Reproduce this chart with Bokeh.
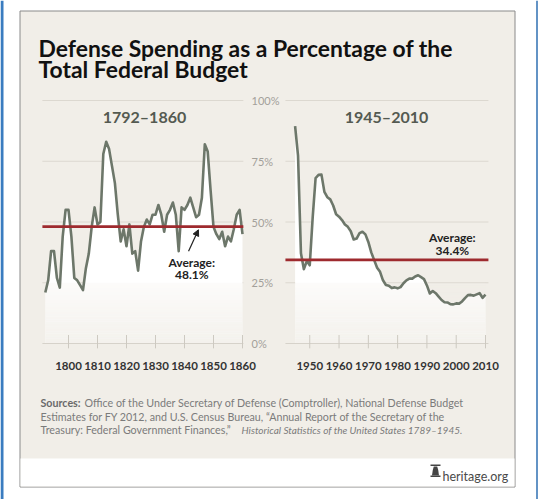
from bokeh.plotting import figure
from bokeh.models import Range1d, Arrow, NormalHead
from bokeh.embed import file_html
from bokeh.resources import INLINE
from bokeh.core.properties import value

# ---------------- data ----------------
years_early = list(range(1792, 1861))
share_early = [21, 26, 38, 38, 27, 23, 44, 55, 55, 44,
               27, 26, 24, 22, 31, 37, 48, 56, 49, 50,
               78, 83, 80, 73, 66, 53, 42, 47, 40, 49,
               37, 38, 30, 42, 48, 51, 49, 53, 53, 57,
               53, 46, 53, 55, 58, 53, 38, 56, 55, 57,
               60, 56, 52, 53, 60, 82, 79, 63, 48, 45,
               43, 46, 40, 44, 42, 47, 53, 55, 45]
avg_early = 48.1

years_modern = list(range(1945, 2011))
share_modern = [89.5, 77.3, 37.1, 30.6, 33.9, 32.2, 51.8, 68.1, 69.4, 69.5,
                62.4, 60.2, 59.3, 56.8, 53.2, 52.2, 50.8, 49.0, 48.0, 46.2,
                42.8, 43.2, 45.4, 46.0, 44.9, 41.8, 37.5, 34.3, 31.2, 29.5,
                26.0, 24.1, 23.8, 22.8, 23.1, 22.7, 23.2, 24.8, 26.0, 26.7,
                26.7, 27.6, 28.1, 27.3, 26.5, 23.9, 20.6, 21.6, 20.7, 19.3,
                17.9, 17.0, 16.9, 16.2, 16.1, 16.5, 16.4, 17.3, 18.7, 19.9,
                20.0, 19.7, 20.2, 20.7, 18.8, 20.1]
avg_modern = 34.4

ticks_early = [1800, 1810, 1820, 1830, 1840, 1850, 1860]
ticks_modern = [1950, 1960, 1970, 1980, 1990, 2000, 2010]
y_ticks = [0, 25, 50, 75, 100]
y_tick_labels = ["0%", "25%", "50%", "75%", "100%"]

title_lines = ["Defense Spending as a Percentage of the", "Total Federal Budget"]
panel_titles = ["1792\u20131860", "1945\u20132010"]

# ---------------- layout ----------------
W, H = 538, 499
X0, Y0 = 0, 0
BG = "#f1eee8"
LINE = "#6d776a"
RED = "#9e2a2e"
GRID = "#dcd8d0"

def lin(a_px, a_v, b_px, b_v, px):
    return a_v + (px - a_px) * (b_v - a_v) / (b_px - a_px)

xl = Range1d(lin(68, 1800, 242, 1860, X0), lin(68, 1800, 242, 1860, X0 + W))
xr = Range1d(lin(294.6, 1945, 485, 2010, X0), lin(294.6, 1945, 485, 2010, X0 + W))
yv = Range1d(lin(343, 0, 100, 100, Y0 + H), lin(343, 0, 100, 100, Y0))

p = figure(width=W, height=H, x_range=Range1d(X0, X0 + W), y_range=Range1d(Y0 + H, Y0),
           output_backend="svg", toolbar_location=None, min_border=0,
           x_axis_type=None, y_axis_type=None, title=None,
           background_fill_color="white", border_fill_color="white", outline_line_color=None)
p.grid.visible = False
p.extra_x_ranges = {"L": xl, "R": xr}
p.extra_y_ranges = {"v": yv}

# page edges (blue)
p.quad(left=[0], right=[3], top=[0], bottom=[499], fill_color="#3a7cc0", line_color=None)
p.segment(x0=[536.5], y0=[0], x1=[536.5], y1=[499], line_color="#2f6fb2", line_width=1.5)

# panel background and border
p.quad(left=[19.5], right=[514.5], top=[10.5], bottom=[486.5], fill_color=BG,
       line_color="#8a8a8a", line_width=1)
p.quad(left=[20], right=[514], top=[458], bottom=[486], fill_color="white", line_color=None)

panels = [("L", years_early, share_early, avg_early, ticks_early, 1791.0, 1860.3),
          ("R", years_modern, share_modern, avg_modern, ticks_modern, 1941.7, 2011.0)]

for rn, xs, ys, avg, ticks, gx0, gx1 in panels:
    for t in y_ticks[1:]:
        p.segment(x0=[gx0], y0=[t], x1=[gx1], y1=[t], line_color=GRID, line_width=1,
                  x_range_name=rn, y_range_name="v")
    p.varea(x=xs, y1=[0] * len(xs), y2=ys, fill_color="white", x_range_name=rn, y_range_name="v")
    n = 25
    bots = [k for k in range(n)]
    tops = [k + 1 for k in range(n)]
    alphas = [0.8 - 0.6 * k / n for k in range(n)]
    p.quad(left=[xs[0]] * n, right=[xs[-1]] * n, bottom=bots, top=tops, fill_color=BG,
           fill_alpha=alphas, line_color=None, x_range_name=rn, y_range_name="v")
    p.segment(x0=[gx0], y0=[0], x1=[gx1], y1=[0], line_color="#d6d2ca", line_width=1.2,
              x_range_name=rn, y_range_name="v")
    p.segment(x0=ticks, y0=[-2] * len(ticks), x1=ticks, y1=[3.5] * len(ticks),
              line_color="#cdc9c1", line_width=1, x_range_name=rn, y_range_name="v")
    p.line(xs, ys, line_color=LINE, line_width=2.6, line_join="round",
           x_range_name=rn, y_range_name="v")
    p.segment(x0=[gx0], y0=[avg], x1=[gx1], y1=[avg], line_color=RED, line_width=2.6,
              x_range_name=rn, y_range_name="v")
    p.text(x=ticks, y=[365] * len(ticks), text=[str(t) for t in ticks], x_range_name=rn,
           text_font=value("Lato"), text_font_style="bold", text_font_size="11.5px",
           text_color="#333333", text_align="center", text_baseline="middle")

# panel titles
p.text(x=[1826.2], y=[116], text=[panel_titles[0]], x_range_name="L",
       text_font=value("Lato"), text_font_style="bold", text_font_size="16px",
       text_color="#545a51", text_align="center", text_baseline="middle")
p.text(x=[1976.2], y=[116], text=[panel_titles[1]], x_range_name="R",
       text_font=value("Lato"), text_font_style="bold", text_font_size="16px",
       text_color="#545a51", text_align="center", text_baseline="middle")

# y tick labels (between panels)
p.text(x=[251] * len(y_ticks), y=y_ticks, text=y_tick_labels, y_range_name="v",
       text_font=value("Lato"), text_font_size="11px", text_color="#a3a09a",
       text_align="left", text_baseline="middle")

# average annotations
p.text(x=[1842.5, 1842.5], y=[33.5, 28.4], text=["Average:", "%.1f%%" % avg_early],
       x_range_name="L", y_range_name="v", text_font=value("Lato"), text_font_style="bold",
       text_font_size="12px", text_color="#222222", text_align="center", text_baseline="middle")
p.text(x=[1998.7, 1998.7], y=[43.6, 38.3], text=["Average:", "%.1f%%" % avg_modern],
       x_range_name="R", y_range_name="v", text_font=value("Lato"), text_font_style="bold",
       text_font_size="12px", text_color="#222222", text_align="center", text_baseline="middle")
p.add_layout(Arrow(end=NormalHead(size=6, fill_color="#222222", line_color="#222222"),
                   x_start=1841.4, y_start=38.0, x_end=1844.8, y_end=46.8,
                   line_color="#222222", line_width=1.2, x_range_name="L", y_range_name="v"))

# title
p.text(x=[38, 38], y=[47, 68], text=title_lines, text_font=value("Lato"),
       text_font_style="bold", text_font_size="22.9px", text_color="#111111",
       text_align="left", text_baseline="alphabetic")

# sources
SRC = "#7b7b7b"
p.text(x=[40], y=[402], text=["Sources:"], text_font=value("Lato"), text_font_style="bold",
       text_font_size="10.7px", text_color="#6a6a6a", text_baseline="alphabetic")
p.text(x=[84, 40, 40], y=[402, 415.5, 429],
       text=["Office of the Under Secretary of Defense (Comptroller), National Defense Budget",
             "Estimates for FY 2012, and U.S. Census Bureau, \u201cAnnual Report of the Secretary of the",
             "Treasury: Federal Government Finances,\u201d"],
       text_font=value("Lato"), text_font_size="10.7px", text_color=SRC, text_baseline="alphabetic")
p.text(x=[462], y=[429], text=["Historical Statistics of the United States 1789\u20131945."],
       text_font=value("Lato"), text_font_style="italic", text_font_size="10px",
       text_color=SRC, text_baseline="alphabetic", text_align="right")

# heritage.org footer with a small bell icon
p.quad(left=[430], right=[440], top=[464], bottom=[465.5], fill_color="#444444", line_color=None)
p.patch(x=[431.5, 432.3, 433.3, 436.7, 437.7, 438.5], y=[475, 469.5, 466, 466, 469.5, 475],
        fill_color="#444444", line_color=None)
p.quad(left=[430], right=[440], top=[475], bottom=[476.5], fill_color="#444444", line_color=None)
p.text(x=[442], y=[476], text=["heritage.org"], text_font=value("Lato"), text_font_size="12.5px",
       text_color="#4a4a4a", text_baseline="alphabetic")

open("out.html", "w").write(file_html(p, INLINE))
